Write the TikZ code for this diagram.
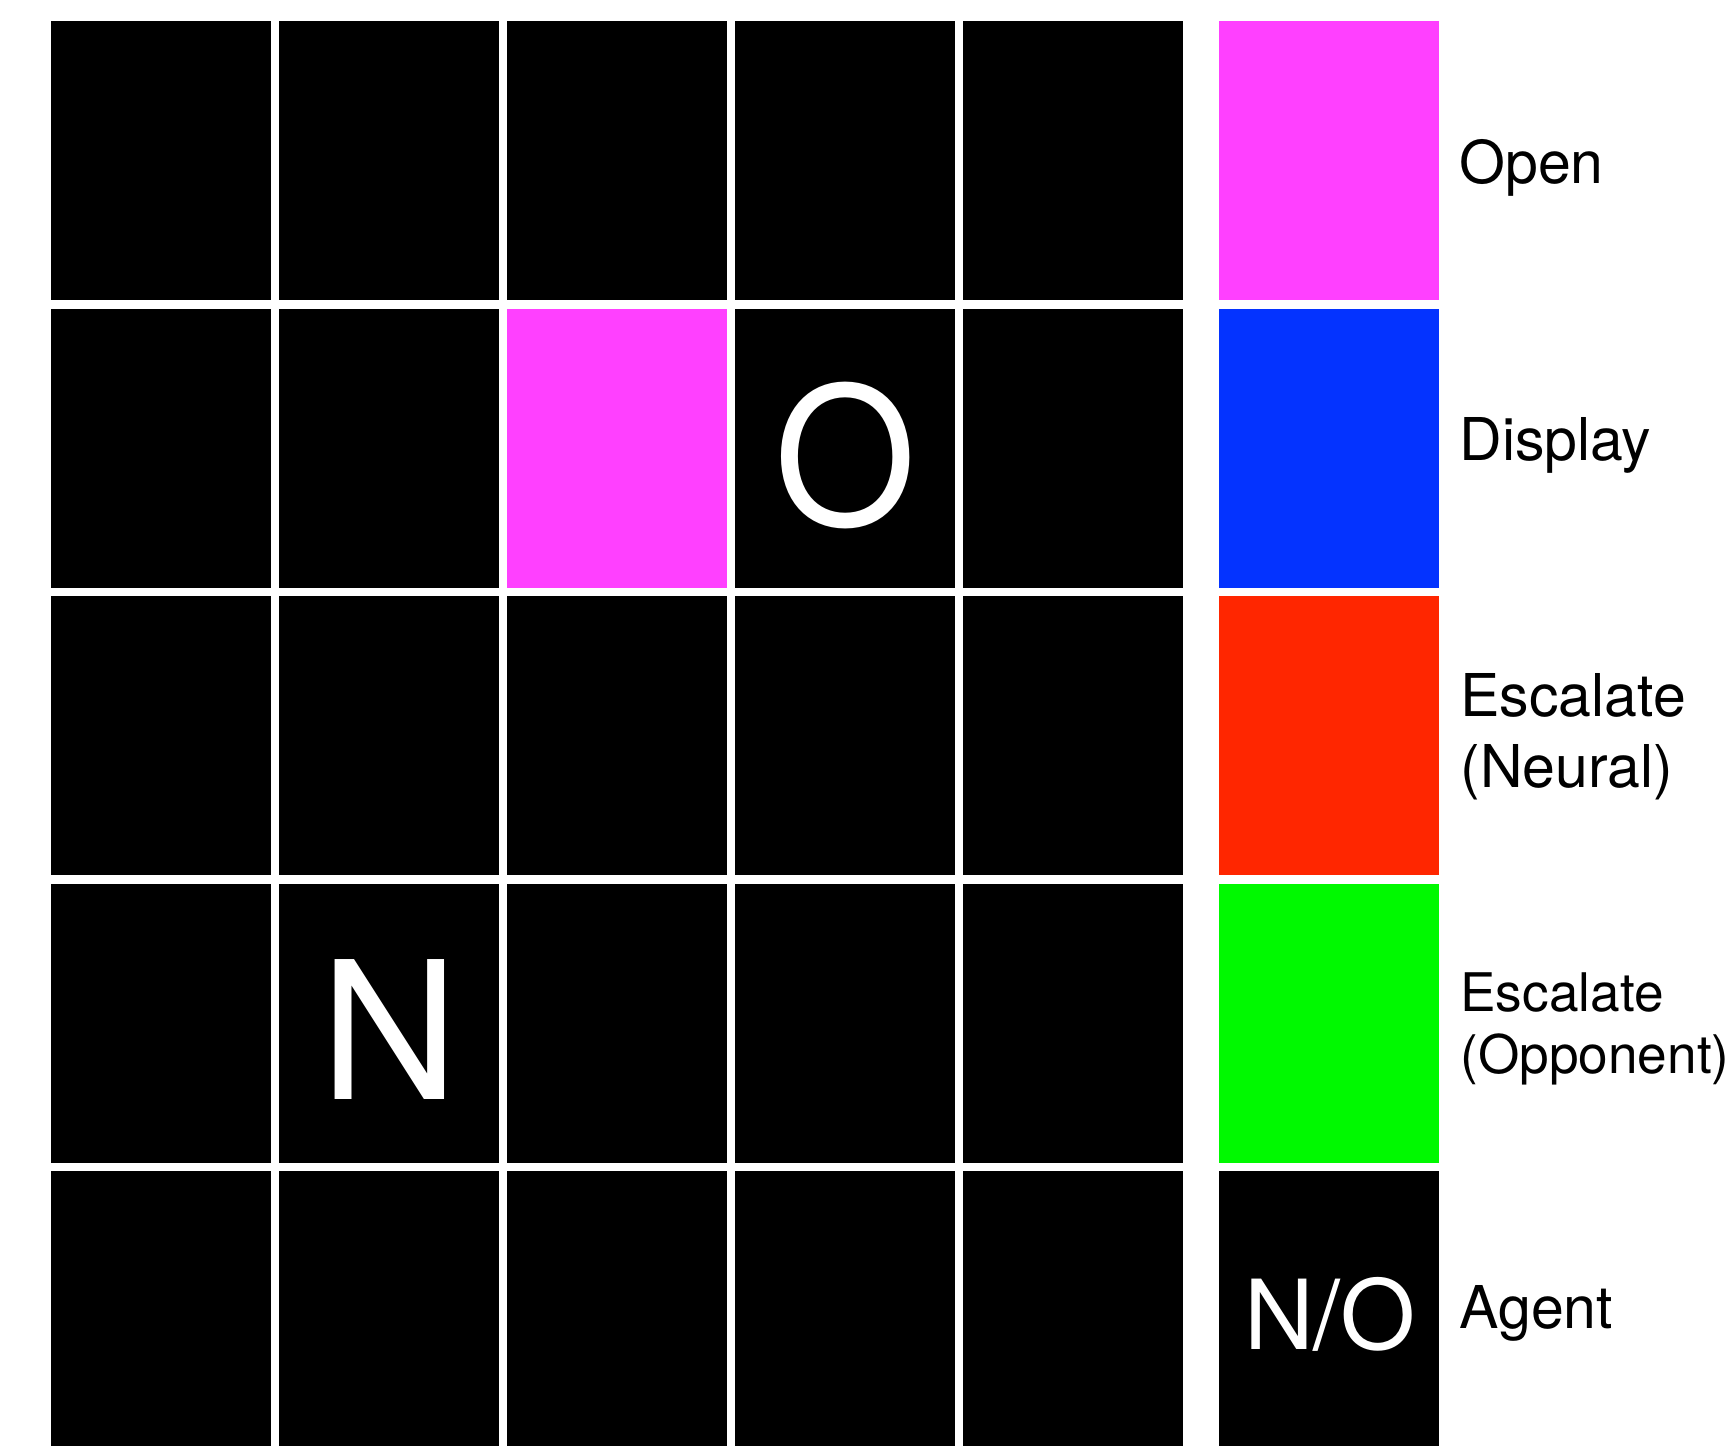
\documentclass[tikz,border=0pt]{standalone}
\usepackage{fontspec}
\setmainfont{TeX Gyre Heros}
\definecolor{openc}{HTML}{FF40FF}
\definecolor{dispc}{HTML}{0433FF}
\definecolor{neurc}{HTML}{FF2600}
\definecolor{oppc}{HTML}{00F900}
\tikzset{
  cell/.style={fill=black},
  bigletter/.style={text=white, inner sep=0pt, anchor=base, font=\fontsize{96pt}{110pt}\selectfont},
  agentletter/.style={text=white, inner sep=0pt, anchor=base, font=\fontsize{48.3pt}{58pt}\selectfont},
  lab/.style={text=black, inner sep=0pt, anchor=base west, font=\fontsize{29.5pt}{34pt}\selectfont},
  labsmall/.style={text=black, inner sep=0pt, anchor=base west, font=\fontsize{26.6pt}{31pt}\selectfont}
}
\begin{document}
\begin{tikzpicture}[x=0.5pt,y=-0.5pt]
\useasboundingbox (0,0) rectangle (1734,1445);
\clip (0,0) rectangle (1734,1445);
% grid cells
\foreach \c in {0,...,4}{
  \foreach \r in {0,...,4}{
    \fill[cell] ({51+228*\c},{21+287.5*\r}) rectangle ++(220,279);
  }
}
% open cell in grid
\fill[openc] ({51+228*2},{21+287.5*1}) rectangle ++(220,279);
% legend swatches
\fill[openc] (1219,21) rectangle ++(220,279);
\fill[dispc] (1219,308.5) rectangle ++(220,279);
\fill[neurc] (1219,596) rectangle ++(220,279);
\fill[oppc] (1219,883.5) rectangle ++(220,279);
\fill[black] (1219,1171) rectangle ++(220,279);
% letters
\node[bigletter, xscale=0.95] (gO) at (845,525) {O};
\node[bigletter] (gN) at (389.5,1099.5) {N};
\node[agentletter] (aNO) at (1330,1349) {N/O};
% legend labels
\node[lab] (lOpen) at (1459,184) {Open};
\node[lab] (lDisp) at (1459,460) {Display};
\node[lab] (lNeur1) at (1460,716) {Escalate};
\node[lab] (lNeur2) at (1460,787) {(Neural)};
\node[labsmall] (lOpp1) at (1460,1011) {Escalate};
\node[labsmall] (lOpp2) at (1460,1073) {(Opponent)};
\node[lab] (lAgent) at (1459,1328) {Agent};
\end{tikzpicture}
\end{document}
